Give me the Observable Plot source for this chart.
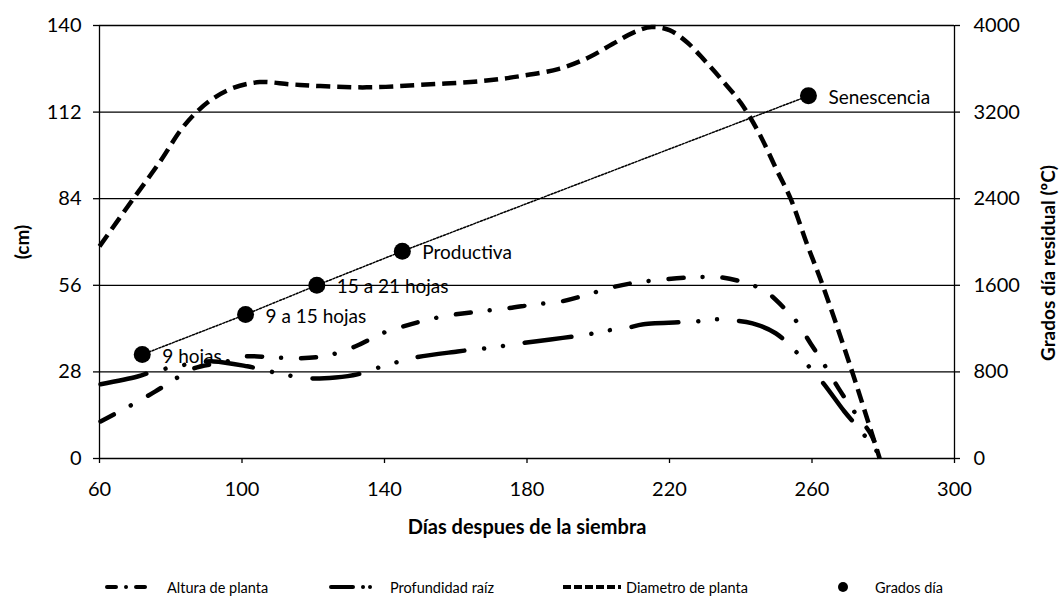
<!DOCTYPE html>
<html>
<head>
<meta charset="utf-8">
<script src="https://cdn.jsdelivr.net/npm/d3@7"></script>
<script src="https://cdn.jsdelivr.net/npm/@observablehq/plot@0.6"></script>
<style>
  html, body { margin: 0; padding: 0; background: #fff; }
  body { width: 1061px; height: 596px; overflow: hidden; font-family: Lato, "Open Sans", sans-serif; }
  #legend { position: relative; height: 19px; width: 1061px; }
  #legend .item { position: absolute; top: 1px; height: 19px; line-height: 19px; display: flex; align-items: center; font-size: 14.5px; color: #000; white-space: nowrap; }
  #legend svg { display: block; }
</style>
</head>
<body>
<div id="chart"></div>
<div id="legend"></div>
<script>
// ---- data ----
const xTicks = [60, 100, 140, 180, 220, 260, 300];
const yTicksCm = [0, 28, 56, 84, 112, 140];
const rightMax = 4000;

const diamDays = [60, 69.5, 77, 83, 87.5, 92, 97.5, 105, 113.5, 122, 135, 150, 167, 178, 189, 197, 204, 210, 215, 220, 225, 230, 235, 240, 245, 250, 254, 258.7, 263, 271, 279];
const diamCm   = [68.6, 84, 96, 106.5, 112.3, 116.5, 119.8, 121.7, 121, 120.4, 120, 120.8, 122, 123.6, 126, 129.5, 134, 137.8, 139.5, 138.5, 134.5, 128.5, 122, 115, 105.5, 93.5, 84, 69, 56, 29, 0];

const alturaDays = [60.3, 69.3, 75.7, 81.9, 86.4, 95.9, 101, 108.6, 115.9, 124, 131.9, 139.4, 145.3, 152.6, 160, 167.2, 174.8, 182.1, 189.7, 197, 203.7, 211.3, 219.4, 227.3, 234.3, 241.9, 247, 251.7, 255.4, 259.6, 263.2, 268, 272.2, 276.4, 278.7];
const alturaCm   = [12, 17.5, 21.7, 26.2, 29.1, 31.4, 33, 32.7, 32.4, 33.3, 36.3, 40.5, 42.7, 45, 46.6, 47.6, 48.6, 49.8, 50.8, 53, 55.3, 57, 58, 58.6, 58.6, 56.6, 54, 49.2, 44.7, 37.2, 30.8, 21.7, 14.6, 8.1, 2];

const raizDays = [60.3, 70.7, 75.2, 80.5, 86.4, 92, 101.5, 106.6, 111.6, 119.2, 126.2, 132.4, 137.5, 142.5, 147.3, 160.5, 165.5, 170.6, 175.9, 186.6, 197, 202.6, 207.6, 212.7, 227.3, 232.3, 237.7, 243.3, 249.8, 256.2, 259.6, 263.2, 269.1, 272.2, 275.6, 278.7];
const raizCm   = [24, 26.5, 28.2, 29.5, 30.8, 31.4, 29.8, 28.5, 27.2, 25.9, 26.2, 27.2, 29.1, 30.8, 32.4, 34.6, 35.3, 35.9, 36.9, 38.5, 40.1, 41.4, 42.1, 43.4, 44.3, 45, 44.7, 43.7, 40.5, 33.7, 29.1, 24.3, 15.2, 11, 6.2, 1.6];

const gradosDays = [72, 101, 121, 145, 259];
const gradosGD   = [960, 1330, 1600, 1915, 3350];
const gradosLabels = ["9 hojas", "9 a 15 hojas", "15 a 21 hojas", "Productiva", "Senescencia"];

const legendLabels = ["Altura de planta", "Profundidad  raíz", "Diametro de planta", "Grados día"];

// ---- build tables ----
const toCm = gd => gd * yTicksCm[yTicksCm.length - 1] / rightMax;
const diam = diamDays.map((d, i) => ({x: d, y: diamCm[i]}));
const altura = alturaDays.map((d, i) => ({x: d, y: alturaCm[i]}));
const raiz = raizDays.map((d, i) => ({x: d, y: raizCm[i]}));
const grados = gradosDays.map((d, i) => ({x: d, y: toCm(gradosGD[i]), label: gradosLabels[i]}));

const W = 1061, H = 577;
const lineBase = {x: "x", y: "y", stroke: "#000", curve: "catmull-rom", fill: "none"};

const chart = Plot.plot({
  width: W, height: H,
  marginTop: 25, marginBottom: H - 458, marginLeft: 99, marginRight: 107,
  style: {fontFamily: "Lato, 'Open Sans', sans-serif", fontSize: "20px", color: "#000", background: "#fff", overflow: "visible"},
  x: {domain: [60, 300]},
  y: {domain: [0, 140]},
  marks: [
    Plot.ruleY(yTicksCm, {stroke: "#000", strokeWidth: 1.3}),
    Plot.ruleX([60, 300], {y1: 0, y2: 140, stroke: "#000", strokeWidth: 1.3}),
    Plot.axisY(yTicksCm, {anchor: "left", tickSize: 6, tickPadding: 12, label: null, strokeWidth: 1.3, fontSize: 20}),
    Plot.axisY(yTicksCm, {anchor: "right", tickSize: 5, tickPadding: 14, label: null, strokeWidth: 1.3, fontSize: 20,
      tickFormat: d => String(Math.round(d * rightMax / 140))}),
    Plot.axisX(xTicks, {anchor: "bottom", tickSize: 5, tickPadding: 18, label: null, strokeWidth: 1.3, fontSize: 20}),
    Plot.text(["Días despues de la siembra"], {frameAnchor: "bottom", dy: 75, fontWeight: "bold", fontSize: 20}),
    Plot.text(["(cm)"], {frameAnchor: "left", textAnchor: "middle", dx: -77, rotate: -90, fontWeight: "bold", fontSize: 19}),
    Plot.text(["Grados día residual (ºC)"], {frameAnchor: "right", textAnchor: "middle", dx: 94, dy: 21, rotate: -90, fontWeight: "bold", fontSize: 19}),
    Plot.text(grados, {x: "x", y: "y", text: "label", dx: 20, dy: 2, textAnchor: "start", fontSize: 19}),
    Plot.line(grados, {x: "x", y: "y", stroke: "#000", strokeWidth: 1.5, strokeDasharray: "2,1.6"}),
    Plot.line(diam, {...lineBase, strokeWidth: 4.5, strokeDasharray: "14,7", strokeLinecap: "butt"}),
    Plot.line(altura, {...lineBase, strokeWidth: 4.5, strokeDasharray: "15,19,0.01,20", strokeLinecap: "round"}),
    Plot.line(raiz, {...lineBase, strokeWidth: 4.5, strokeDasharray: "47,20,0.01,19,0.01,22", strokeLinecap: "round"}),
    Plot.dot(grados, {x: "x", y: "y", r: 8.5, fill: "#000"})
  ]
});
document.getElementById("chart").appendChild(chart);

// ---- legend (HTML below the SVG) ----
const legend = document.getElementById("legend");
const swatches = [
  {left: 104, w: 46, text: 167, draw: '<line x1="3" y1="9" x2="43" y2="9" stroke="#000" stroke-width="4" stroke-linecap="round" stroke-dasharray="9,10,0.01,10"/>'},
  {left: 328, w: 46, text: 390, draw: '<line x1="3" y1="9" x2="43" y2="9" stroke="#000" stroke-width="4" stroke-linecap="round" stroke-dasharray="22,10,0.01,7,0.01,20"/>'},
  {left: 561, w: 62, text: 626, draw: '<line x1="2" y1="9" x2="60" y2="9" stroke="#000" stroke-width="4" stroke-dasharray="8,3"/>'},
  {left: 835, w: 16, text: 875, draw: '<circle cx="8" cy="9" r="5" fill="#000"/>'}
];
swatches.forEach((s, i) => {
  const sw = document.createElement("div");
  sw.className = "item";
  sw.style.left = s.left + "px";
  sw.innerHTML = `<svg width="${s.w}" height="19">${s.draw}</svg>`;
  legend.appendChild(sw);
  const tx = document.createElement("div");
  tx.className = "item";
  tx.style.left = s.text + "px";
  tx.textContent = legendLabels[i];
  legend.appendChild(tx);
});
</script>
</body>
</html>
